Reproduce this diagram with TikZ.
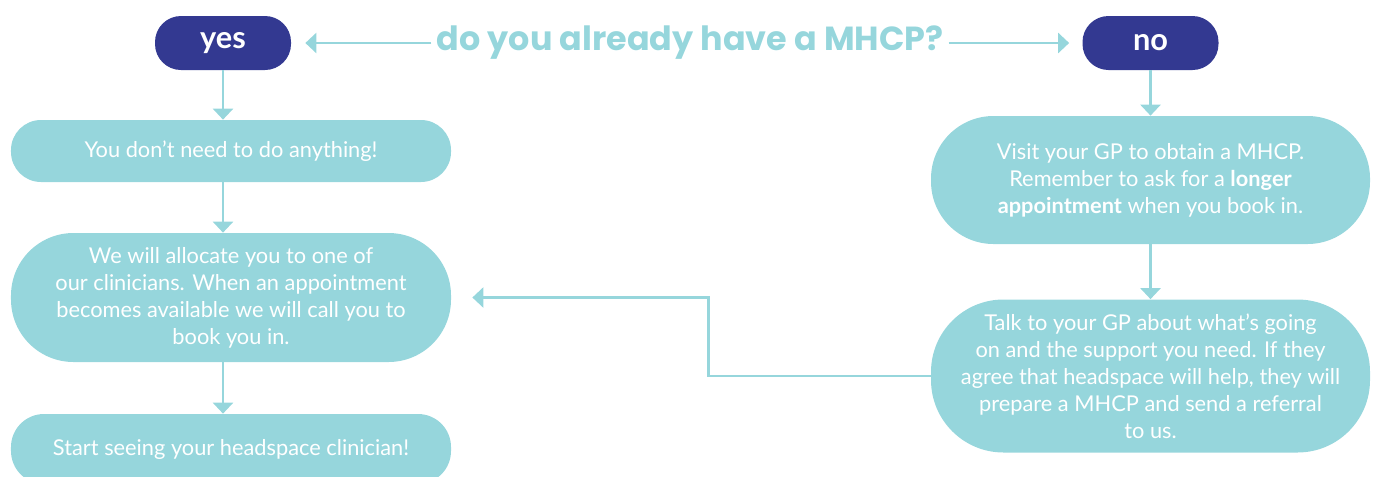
\documentclass[tikz,border=0pt]{standalone}
\usepackage{fontspec}
\setmainfont{Lato}
\newfontfamily\headfont{Poppins}
\usepackage{tikz}
\usetikzlibrary{positioning,arrows.meta,calc}
\usepackage{xcolor}
\definecolor{mhteal}{RGB}{150,214,220}
\definecolor{mhnavy}{RGB}{51,57,145}

\tikzset{
  answer/.style={rectangle,rounded corners=0.52cm,fill=mhnavy,text=white,
    font=\fontsize{17.5}{19}\selectfont\bfseries,minimum width=2.72cm,minimum height=1.08cm},
  pill/.style={rectangle,fill=mhteal,text=white,align=center,
    font=\fontsize{12.4}{15.4}\selectfont,minimum width=8.8cm},
  flow/.style={draw=mhteal,line width=0.05cm,-{Triangle[width=0.4cm,length=0.22cm]}}
}

\begin{document}
\begin{tikzpicture}
\useasboundingbox (0,0) rectangle (27.52,-9.52);

% question and answers
\node[font=\headfont\fontsize{19}{22}\selectfont\bfseries,text=mhteal,inner sep=0.1cm] (q) at (13.8,-0.86) {do you already have a MHCP?};
\node[answer] (yes) at (4.46,-0.86) {yes};
\node[answer] (no) at (23.01,-0.86) {no};

% left column
\node[pill,rounded corners=0.6cm,minimum height=1.24cm] (dont) at (4.62,-3.02) {You don’t need to do anything!};
\node[pill,rounded corners=1.25cm,minimum height=2.58cm] (alloc) at (4.62,-5.95) {We will allocate you to one of\\our clinicians. When an appointment\\becomes available we will call you to\\book you in.};
\node[pill,rounded corners=0.66cm,minimum height=1.4cm] (start) at (4.62,-8.98) {Start seeing your headspace clinician!};

% right column
\node[pill,rounded corners=1.25cm,minimum width=8.78cm,minimum height=2.56cm] (visit) at (23.01,-3.6) {Visit your GP to obtain a MHCP.\\Remember to ask for a \textbf{longer}\\\textbf{appointment} when you book in.};
\node[pill,rounded corners=1.45cm,minimum width=8.78cm,minimum height=3.06cm] (talk) at (23.01,-7.52) {Talk to your GP about what’s going\\on and the support you need. If they\\agree that headspace will help, they will\\prepare a MHCP and send a referral\\to us.};

% connectors
\draw[flow,shorten >=0.28cm] (q.west) -- (yes.east);
\draw[flow,shorten >=0.26cm] (q.east) -- (no.east -| no.west);
\draw[flow] (yes.south) -- (yes.south |- dont.north);
\draw[flow] (dont.south -| yes.south) -- (alloc.north -| yes.south);
\draw[flow] (alloc.south -| yes.south) -- (start.north -| yes.south);
\draw[flow] (no) -- (visit);
\draw[flow] (visit) -- (talk);
\draw[flow,shorten >=0.42cm] (talk.west) -- ++(-4.44,0) |- (alloc.east);
\end{tikzpicture}
\end{document}
